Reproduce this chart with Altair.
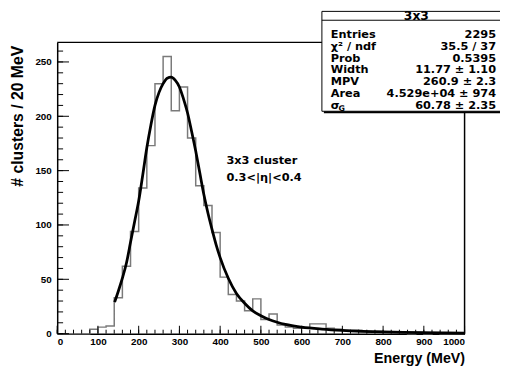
import altair as alt
import pandas as pd

# ---------------- data ----------------
bin_width = 20  # MeV
hist_counts = [0, 0, 0, 0, 4, 6, 7, 33, 62, 94,
               134, 173, 230, 255, 205, 227, 180, 136, 118, 93,
               52, 36, 30, 21, 32, 13, 18, 8, 6, 5,
               5, 9, 9, 5, 4, 3, 3, 2, 1, 2,
               1, 1, 1, 0, 1, 0, 1, 0, 0, 0]

fit_energy = [141, 150, 160, 170, 180, 190, 200, 210, 220, 230, 240, 250, 260, 270,
              280, 290, 300, 310, 320, 330, 340, 350, 360, 370, 380, 390, 400, 420,
              440, 460, 480, 500, 520, 540, 560, 600, 650, 700, 750, 800, 850, 900,
              950, 1000]
fit_value = [29, 39, 51, 65, 84, 103, 122, 146, 171, 192, 210, 222, 230, 235,
             236, 233, 227, 216, 203, 186, 168, 148, 128, 111, 96, 82, 70, 51,
             37, 28, 21, 16.5, 13, 10.5, 8.5, 6, 4.2, 3, 2.2, 1.6, 1.2, 0.9,
             0.7, 0.5]

x_major = list(range(0, 1001, 100))
x_minor = list(range(0, 1001, 20))
y_major = [0, 50, 100, 150, 200, 250]
y_minor = list(range(0, 261, 10))

stats_title = "3x3"
stat_labels = ["Entries", "χ² / ndf", "Prob", "Width", "MPV", "Area", "σ"]
stat_values = ["2295", "35.5 / 37", "0.5395", "11.77 ± 1.10", "260.9 ± 2.3",
               "4.529e+04 ± 974", "60.78 ± 2.35"]
note_lines = ["3x3 cluster", "0.3<|η|<0.4"]

x_title = "Energy (MeV)"
y_title = "# clusters / 20 MeV"

# ---------------- chart ----------------
W, H = 414, 296
xs = alt.Scale(domain=[0, 1000], nice=False, zero=False)
ys = alt.Scale(domain=[0, 268], nice=False, zero=False)

edges = [i * bin_width for i in range(len(hist_counts) + 1)]
hist_df = pd.DataFrame({"e": edges, "n": hist_counts + [hist_counts[-1]]})
fit_df = pd.DataFrame({"e": fit_energy, "n": fit_value})
one = pd.DataFrame({"a": [0]})

LF = "Liberation Sans"
SF = "DejaVu Sans"

x_axis = alt.Axis(values=x_major, format="d", labelFont=LF, labelFontSize=10,
                  labelFontWeight="bold", labelColor="black", ticks=False,
                  labelPadding=3, labelOverlap=False, domainColor="black",
                  domainWidth=1.5, grid=False, title=x_title, titleFont=LF,
                  titleFontSize=14.5, titleFontWeight="bold", titleColor="black",
                  titleAlign="right", titleX=W, titleY=29, titleBaseline="alphabetic")
y_axis = alt.Axis(values=y_major, format="d", labelFont=LF, labelFontSize=10,
                  labelFontWeight="bold", labelColor="black", ticks=False,
                  labelPadding=6, labelOverlap=False, domainColor="black",
                  domainWidth=1.5, grid=False, title=y_title, titleFont=LF,
                  titleFontSize=16, titleFontWeight="bold", titleColor="black",
                  titleAngle=270, titleAlign="right", titleBaseline="middle",
                  titleX=-40, titleY=3)

X = lambda f: alt.X(f, scale=xs, axis=x_axis)
Y = lambda f: alt.Y(f, scale=ys, axis=y_axis)

hist = alt.Chart(hist_df).mark_line(interpolate="step-after", color="#7a7a7a",
                                    strokeWidth=1.5).encode(x=X("e:Q"), y=Y("n:Q"))

fit = alt.Chart(fit_df).mark_line(interpolate="monotone", color="black",
                                  strokeWidth=2.8).encode(x=X("e:Q"), y=Y("n:Q"))

def yticks(vals, length):
    return alt.Chart(pd.DataFrame({"n": vals})).mark_rule(color="black", strokeWidth=1).encode(
        y=Y("n:Q"), x=alt.value(0), x2=alt.value(length))

def xticks(vals, length):
    return alt.Chart(pd.DataFrame({"e": vals})).mark_rule(color="black", strokeWidth=1).encode(
        x=X("e:Q"), y=alt.value(H), y2=alt.value(H - length))

frame_top = alt.Chart(one).mark_rule(color="black", strokeWidth=1.5).encode(
    x=alt.value(0), x2=alt.value(W), y=alt.value(0))
frame_right = alt.Chart(one).mark_rule(color="black", strokeWidth=1.5).encode(
    x=alt.value(W), y=alt.value(0), y2=alt.value(H))

bx0, bx1, by0, by1 = 269, 470, -31.5, 70
shadow = alt.Chart(one).mark_rect(color="black").encode(
    x=alt.value(bx0 + 2), x2=alt.value(bx1 + 2), y=alt.value(by0 + 2), y2=alt.value(by1 + 2))
box = alt.Chart(one).mark_rect(fill="white", stroke="black", strokeWidth=1).encode(
    x=alt.value(bx0), x2=alt.value(bx1), y=alt.value(by0), y2=alt.value(by1))
sep = alt.Chart(one).mark_rule(color="black", strokeWidth=1).encode(
    x=alt.value(bx0), x2=alt.value(bx1), y=alt.value(-22.5))

layers = [hist, fit, yticks(y_minor, 6), yticks(y_major, 12), xticks(x_minor, 4),
          xticks(x_major, 8), frame_top, frame_right, shadow, box, sep]

layers.append(alt.Chart(one).mark_text(font=SF, fontSize=12.5, fontWeight="bold",
                                       align="center", baseline="middle", color="black").encode(
    x=alt.value(365), y=alt.value(-27), text=alt.value(stats_title)))

for i, (lab, val) in enumerate(zip(stat_labels, stat_values)):
    yy = -7.5 + 12 * i
    layers.append(alt.Chart(one).mark_text(font=SF, fontSize=11.5, fontWeight="bold",
                                           align="left", baseline="middle", color="black").encode(
        x=alt.value(278), y=alt.value(yy), text=alt.value(lab)))
    layers.append(alt.Chart(one).mark_text(font=SF, fontSize=11.5, fontWeight="bold",
                                           align="right", baseline="middle", color="black").encode(
        x=alt.value(446), y=alt.value(yy), text=alt.value(val)))
# subscript G of sigma
layers.append(alt.Chart(one).mark_text(font=SF, fontSize=8, fontWeight="bold",
                                       align="left", baseline="middle", color="black").encode(
    x=alt.value(286), y=alt.value(-7.5 + 12 * 6 + 3), text=alt.value("G")))

for j, line in enumerate(note_lines):
    layers.append(alt.Chart(one).mark_text(font=SF, fontSize=11.5, fontWeight="bold",
                                           align="left", baseline="middle", color="black").encode(
        x=alt.value(172), y=alt.value(121 + 17 * j), text=alt.value(line)))

chart = alt.layer(*layers).properties(
    width=W, height=H,
    autosize=alt.AutoSizeParams(type="none"),
    padding={"left": 50, "top": 32, "right": 36, "bottom": 34},
    background="white",
).configure_view(stroke="transparent")

chart.save("out.html", embed_options={"renderer": "svg", "actions": False})
